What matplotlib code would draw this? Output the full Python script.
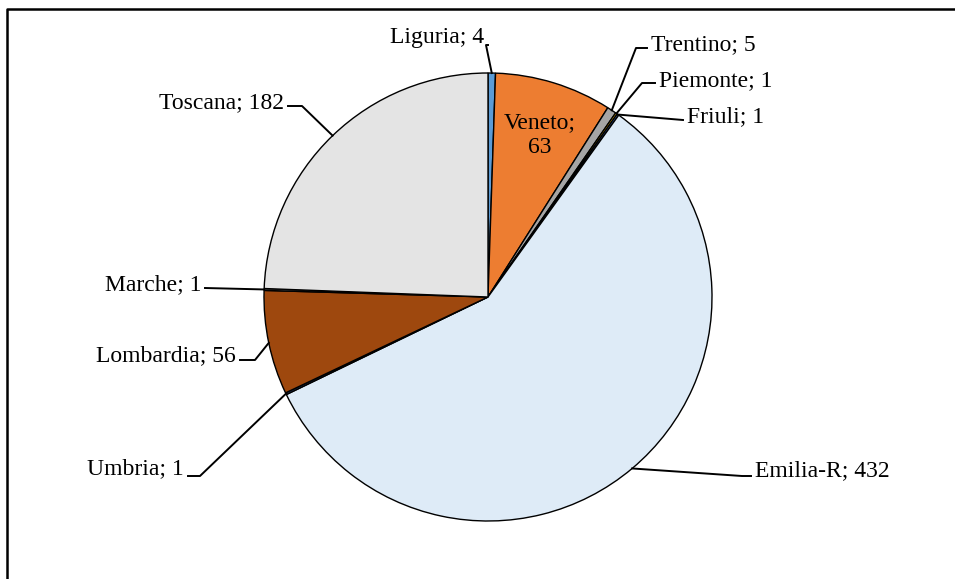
import numpy as np
import matplotlib
matplotlib.use('Agg')
import matplotlib.pyplot as plt

# dati
regioni = ['Liguria', 'Veneto', 'Trentino', 'Piemonte', 'Friuli',
           'Emilia-R', 'Umbria', 'Lombardia', 'Marche', 'Toscana']
valori = [4, 63, 5, 1, 1, 432, 1, 56, 1, 182]
colori = ['#5B9BD5', '#ED7D31', '#A5A5A5', '#FFC000', '#4472C4',
          '#DEEBF7', '#264478', '#9E480E', '#636363', '#E4E4E4']

# posizione etichette (pixel, origine in alto a sinistra): testo, gomito, allineamento
etichette = {
    'Liguria': ((484, 38), (486, 45), 'right'),
    'Trentino': ((651, 45), (636, 48), 'left'),
    'Piemonte': ((659, 81), (642, 83), 'left'),
    'Friuli': ((687, 117), None, 'left'),
    'Emilia-R': ((755, 471), (742, 476), 'left'),
    'Umbria': ((184, 469), (200, 476), 'right'),
    'Lombardia': ((236, 356), (255, 360), 'right'),
    'Marche': ((201, 285), None, 'right'),
    'Toscana': ((284, 103), (302, 106), 'right'),
}

W, H = 955, 579
cx, cy, r = 488, 297, 224
fs = 17

plt.rcParams['font.family'] = ['Liberation Serif', 'DejaVu Serif']
fig = plt.figure(figsize=(W / 100, H / 100), dpi=100)
ax = fig.add_axes([0, 0, 1, 1])

wedges, _ = ax.pie(valori, colors=colori, startangle=90, counterclock=False,
                   center=(cx, H - cy), radius=r,
                   wedgeprops=dict(edgecolor='black', linewidth=1))
ax.set_xlim(0, W)
ax.set_ylim(0, H)
ax.set_aspect('equal')
ax.axis('off')

# bordo del grafico
ax.plot([7, 7, W], [0, H - 9, H - 9], color='black', lw=1.8, clip_on=False)

for w, nome, v in zip(wedges, regioni, valori):
    ang = np.deg2rad((w.theta1 + w.theta2) / 2)
    px, py = cx + r * np.cos(ang), (H - cy) + r * np.sin(ang)
    if nome == 'Veneto':
        ax.text(cx + 52, H - 135, '%s;\n%d' % (nome, v), ha='center', va='center',
                fontsize=fs, linespacing=1.2)
        continue
    (tx, ty), gomito, ha = etichette[nome]
    ty_d = H - ty
    end_x = tx + (4 if ha == 'right' else -4)
    if gomito is not None:
        gx, gy = gomito
        xs = [px, gx, end_x]
        ys = [py, H - gy, H - gy]
    else:
        xs = [px, end_x]
        ys = [py, ty_d - 3]
    ax.plot(xs, ys, color='black', lw=1.4)
    ax.text(tx, ty_d, '%s; %d' % (nome, v), ha=ha, va='center', fontsize=fs)

fig.savefig('out.png', dpi=100)
